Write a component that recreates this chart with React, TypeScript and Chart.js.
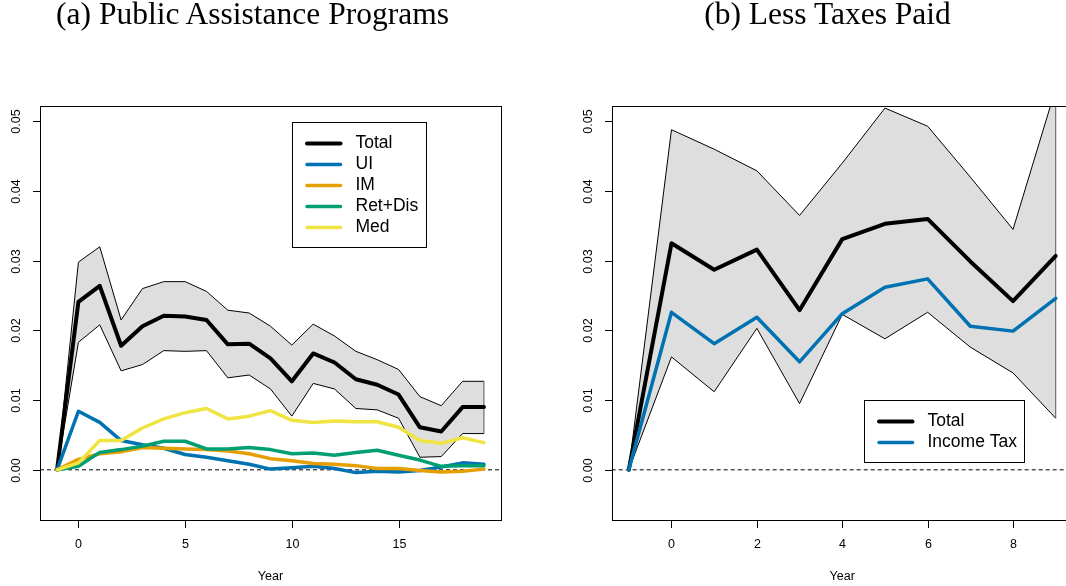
import React, { useEffect, useRef } from "react";
import { Chart, registerables } from "chart.js";

Chart.register(...registerables);

// ---------- Data: panel (a) Public Assistance Programs ----------
const yearsA = [-1, 0, 1, 2, 3, 4, 5, 6, 7, 8, 9, 10, 11, 12, 13, 14, 15, 16, 17, 18, 19];
const totalA = [0, 0.0241, 0.0264, 0.0178, 0.0206, 0.0221, 0.022, 0.0215, 0.018, 0.0181, 0.016, 0.0127, 0.0167, 0.0154, 0.013, 0.0122, 0.0108, 0.0061, 0.0055, 0.009, 0.009];
const totalAUpper = [0, 0.0298, 0.032, 0.0215, 0.026, 0.027, 0.027, 0.0256, 0.0229, 0.0225, 0.0206, 0.0179, 0.0209, 0.0192, 0.017, 0.0158, 0.0144, 0.0105, 0.0092, 0.0127, 0.0127];
const totalALower = [0, 0.0183, 0.0208, 0.0142, 0.0151, 0.0171, 0.017, 0.0171, 0.0132, 0.0136, 0.0116, 0.0077, 0.0124, 0.0116, 0.0088, 0.0086, 0.0074, 0.0018, 0.0019, 0.0052, 0.0052];
const uiA = [0, 0.0084, 0.0068, 0.0042, 0.0036, 0.0031, 0.0022, 0.0018, 0.0013, 0.0008, 0.0001, 0.0003, 0.0005, 0.0002, -0.0004, -0.0002, -0.0003, -0.0001, 0.0004, 0.001, 0.0008];
const imA = [0, 0.0015, 0.0023, 0.0026, 0.0032, 0.0031, 0.003, 0.0029, 0.0027, 0.0023, 0.0016, 0.0013, 0.0009, 0.0008, 0.0006, 0.0002, 0.0002, -0.0001, -0.0003, -0.0002, 0.0001];
const retDisA = [0, 0.0005, 0.0025, 0.0029, 0.0034, 0.0041, 0.0041, 0.003, 0.003, 0.0032, 0.0029, 0.0023, 0.0024, 0.0021, 0.0025, 0.0028, 0.0021, 0.0014, 0.0005, 0.0006, 0.0006];
const medA = [0, 0.001, 0.0042, 0.0042, 0.006, 0.0073, 0.0082, 0.0088, 0.0073, 0.0077, 0.0085, 0.0071, 0.0068, 0.007, 0.0069, 0.0069, 0.0061, 0.0042, 0.0038, 0.0046, 0.0039];
const labelsA = ["Total", "UI", "IM", "Ret+Dis", "Med"];
const xTicksA = [0, 5, 10, 15];

// ---------- Data: panel (b) Less Taxes Paid ----------
const yearsB = [-1, 0, 1, 2, 3, 4, 5, 6, 7, 8, 9];
const totalB = [0, 0.0325, 0.0287, 0.0316, 0.0229, 0.0331, 0.0353, 0.036, 0.0299, 0.0242, 0.0307];
const totalBUpper = [0, 0.0488, 0.046, 0.0429, 0.0365, 0.044, 0.0519, 0.0493, 0.042, 0.0345, 0.0547];
const totalBLower = [0, 0.0162, 0.0112, 0.0203, 0.0095, 0.0223, 0.0188, 0.0226, 0.0176, 0.0139, 0.0074];
const incomeTaxB = [0, 0.0226, 0.0181, 0.0219, 0.0155, 0.0224, 0.0262, 0.0274, 0.0206, 0.0199, 0.0246];
const labelsB = ["Total", "Income Tax"];
const xTicksB = [0, 2, 4, 6, 8];

// ---------- Shared ----------
const yTicks = [0, 0.01, 0.02, 0.03, 0.04, 0.05];
const yTickLabels = ["0.00", "0.01", "0.02", "0.03", "0.04", "0.05"];
const yRange = [-0.005, 0.05];
const titleA = "(a) Public Assistance Programs";
const titleB = "(b) Less Taxes Paid";
const xTitle = "Year";

const COLORS = {
  total: "#000000",
  ui: "#0072B2",
  im: "#E69F00",
  ret: "#009E73",
  med: "#F0E442",
  band: "#DEDEDE",
};

const SANS = '"Liberation Sans", Arial, Helvetica, sans-serif';

// R-style 4% axis extension
function ext(lo: number, hi: number) {
  const d = (hi - lo) * 0.04;
  return [lo - d, hi + d];
}

function pts(xs: number[], ys: number[]) {
  return xs.map((x, i) => ({ x, y: ys[i] }));
}

type LegendItem = { label: string; color: string; width: number };

function rStylePlugin(cfg: {
  id: string;
  xTicks: number[];
  legend: { dx: number; dy: number; items: LegendItem[] };
}) {
  return {
    id: cfg.id,
    afterDatasetsDraw(chart: any) {
      const { ctx, chartArea: ca, scales } = chart;
      const xs = scales.x;
      const ys = scales.y;
      ctx.save();
      ctx.setLineDash([]);
      ctx.strokeStyle = "#000";
      ctx.fillStyle = "#000";
      ctx.lineWidth = 1;
      const L = Math.round(ca.left) + 0.5;
      const R = Math.round(ca.right) + 0.5;
      const T = Math.round(ca.top) + 0.5;
      const B = Math.round(ca.bottom) + 0.5;
      ctx.strokeRect(L, T, R - L, B - T);

      ctx.font = "12.5px " + SANS;
      ctx.textAlign = "center";
      ctx.textBaseline = "middle";
      // x ticks
      cfg.xTicks.forEach((v) => {
        const px = Math.round(xs.getPixelForValue(v)) + 0.5;
        ctx.beginPath();
        ctx.moveTo(px, B);
        ctx.lineTo(px, B + 7.5);
        ctx.stroke();
        ctx.fillText(String(v), px, ca.bottom + 24.5);
      });
      // y ticks
      yTicks.forEach((v, i) => {
        const py = Math.round(ys.getPixelForValue(v)) + 0.5;
        ctx.beginPath();
        ctx.moveTo(L - 7.5, py);
        ctx.lineTo(L, py);
        ctx.stroke();
        ctx.save();
        ctx.translate(ca.left - 23, py);
        ctx.rotate(-Math.PI / 2);
        ctx.fillText(yTickLabels[i], 0, 0);
        ctx.restore();
      });
      // x title
      ctx.fillText(xTitle, (ca.left + ca.right) / 2, ca.bottom + 57);

      // legend
      const lg = cfg.legend;
      ctx.font = "17.5px " + SANS;
      ctx.textAlign = "left";
      let maxW = 0;
      lg.items.forEach((it) => {
        maxW = Math.max(maxW, ctx.measureText(it.label).width);
      });
      const bx = Math.round(ca.left + lg.dx) + 0.5;
      const by = Math.round(ca.top + lg.dy) + 0.5;
      const bw = Math.round(63 + maxW + 8);
      const bh = 21 * (lg.items.length + 1) - 1;
      ctx.fillStyle = "#fff";
      ctx.fillRect(bx, by, bw, bh);
      ctx.strokeStyle = "#000";
      ctx.lineWidth = 1;
      ctx.strokeRect(bx, by, bw, bh);
      lg.items.forEach((it, i) => {
        const ry = by + 21 * (i + 1);
        ctx.beginPath();
        ctx.strokeStyle = it.color;
        ctx.lineWidth = it.width;
        ctx.lineCap = "round";
        ctx.moveTo(bx + 14.5, ry);
        ctx.lineTo(bx + 48, ry);
        ctx.stroke();
        ctx.fillStyle = "#000";
        ctx.fillText(it.label, bx + 63, ry);
      });
      ctx.restore();
    },
  };
}

function lineDs(label: string, xs: number[], ys: number[], color: string, width: number, order: number) {
  return {
    label,
    data: pts(xs, ys),
    borderColor: color,
    backgroundColor: color,
    borderWidth: width,
    borderCapStyle: "round",
    borderJoinStyle: "round",
    pointRadius: 0,
    fill: false,
    tension: 0,
    order,
  };
}

function bandDatasets(xs: number[], upper: number[], lower: number[]) {
  const last = xs.length - 1;
  return [
    {
      label: "upper",
      data: pts(xs, upper),
      borderColor: "#000",
      borderWidth: 1,
      backgroundColor: COLORS.band,
      pointRadius: 0,
      fill: "+1",
      tension: 0,
      order: 20,
    },
    {
      label: "lower",
      data: pts(xs, lower),
      borderColor: "#000",
      borderWidth: 1,
      pointRadius: 0,
      fill: false,
      tension: 0,
      order: 19,
    },
    {
      label: "edge",
      data: [
        { x: xs[last], y: lower[last] },
        { x: xs[last], y: upper[last] },
      ],
      borderColor: "#555",
      borderWidth: 1,
      pointRadius: 0,
      fill: false,
      order: 18,
    },
  ];
}

function zeroDs(xr: number[]) {
  return {
    label: "zero",
    data: [
      { x: xr[0], y: 0 },
      { x: xr[1], y: 0 },
    ],
    borderColor: "#000",
    borderWidth: 1,
    borderDash: [4, 3],
    pointRadius: 0,
    fill: false,
    order: 15,
  };
}

function baseOptions(xr: number[], padding: any) {
  const yr = ext(yRange[0], yRange[1]);
  return {
    responsive: false,
    animation: false,
    devicePixelRatio: 1,
    events: [],
    layout: { padding },
    plugins: { legend: { display: false }, tooltip: { enabled: false }, title: { display: false } },
    scales: {
      x: { type: "linear", min: xr[0], max: xr[1], display: false },
      y: { type: "linear", min: yr[0], max: yr[1], display: false },
    },
  };
}

export default function App() {
  const refA = useRef<HTMLCanvasElement>(null);
  const refB = useRef<HTMLCanvasElement>(null);

  useEffect(() => {
    const xrA = ext(yearsA[0], yearsA[yearsA.length - 1]);
    const xrB = ext(yearsB[0], yearsB[yearsB.length - 1]);

    const chartA = new Chart(refA.current as HTMLCanvasElement, {
      type: "line",
      data: {
        datasets: [
          ...bandDatasets(yearsA, totalAUpper, totalALower),
          zeroDs(xrA),
          lineDs(labelsA[0], yearsA, totalA, COLORS.total, 4, 5),
          lineDs(labelsA[1], yearsA, uiA, COLORS.ui, 3.5, 4),
          lineDs(labelsA[2], yearsA, imA, COLORS.im, 3.5, 3),
          lineDs(labelsA[3], yearsA, retDisA, COLORS.ret, 3.5, 2),
          lineDs(labelsA[4], yearsA, medA, COLORS.med, 3.5, 1),
        ] as any,
      },
      options: baseOptions(xrA, { left: 40, top: 106, right: 29, bottom: 66 }) as any,
      plugins: [
        rStylePlugin({
          id: "rStyleA",
          xTicks: xTicksA,
          legend: {
            dx: 252.3,
            dy: 15.7,
            items: [
              { label: labelsA[0], color: COLORS.total, width: 4 },
              { label: labelsA[1], color: COLORS.ui, width: 3.5 },
              { label: labelsA[2], color: COLORS.im, width: 3.5 },
              { label: labelsA[3], color: COLORS.ret, width: 3.5 },
              { label: labelsA[4], color: COLORS.med, width: 3.5 },
            ],
          },
        }) as any,
      ],
    });

    const chartB = new Chart(refB.current as HTMLCanvasElement, {
      type: "line",
      data: {
        datasets: [
          ...bandDatasets(yearsB, totalBUpper, totalBLower),
          zeroDs(xrB),
          lineDs(labelsB[0], yearsB, totalB, COLORS.total, 4, 5),
          lineDs(labelsB[1], yearsB, incomeTaxB, COLORS.ui, 3.5, 4),
        ] as any,
      },
      options: baseOptions(xrB, { left: 71.7, top: 106, right: 27.2, bottom: 66 }) as any,
      plugins: [
        rStylePlugin({
          id: "rStyleB",
          xTicks: xTicksB,
          legend: {
            dx: 252.6,
            dy: 294.3,
            items: [
              { label: labelsB[0], color: COLORS.total, width: 4 },
              { label: labelsB[1], color: COLORS.ui, width: 3.5 },
            ],
          },
        }) as any,
      ],
    });

    return () => {
      chartA.destroy();
      chartB.destroy();
    };
  }, []);

  const titleStyle: React.CSSProperties = {
    position: "absolute",
    top: -2,
    fontFamily: '"Liberation Serif", "Times New Roman", serif',
    fontSize: 31.5,
    lineHeight: 1,
    whiteSpace: "nowrap",
    transform: "translateX(-50%)",
    color: "#000",
  };

  return (
    <div
      style={{
        position: "fixed",
        left: 0,
        top: 0,
        width: 1066,
        height: 586,
        overflow: "hidden",
        background: "#fff",
      }}
    >
      <canvas ref={refA} width={530} height={586} style={{ position: "absolute", left: 0, top: 0 }} />
      <canvas ref={refB} width={560} height={586} style={{ position: "absolute", left: 540, top: 0 }} />
      <div style={{ ...titleStyle, left: 252.5 }}>{titleA}</div>
      <div style={{ ...titleStyle, left: 827.5 }}>{titleB}</div>
    </div>
  );
}
